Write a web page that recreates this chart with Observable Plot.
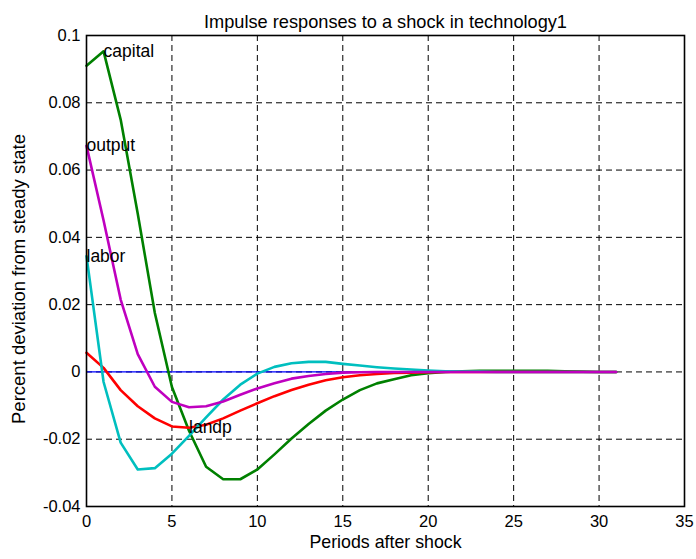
<!DOCTYPE html>
<html>
<head>
<meta charset="utf-8">
<script src="https://cdn.jsdelivr.net/npm/d3@7"></script>
<script src="https://cdn.jsdelivr.net/npm/@observablehq/plot@0.6"></script>
<style>
  html, body { margin: 0; padding: 0; background: #fff; }
  #chart svg { font-family: "Liberation Sans", Arial, Helvetica, sans-serif; }
</style>
</head>
<body>
<div id="chart"></div>
<script>
// ---- data ----
const periods = d3.range(0, 32);
const seriesNames = ["technology", "capital", "landp", "labor", "output"];
const seriesColors = ["#0000ff", "#008000", "#ff0000", "#00bfbf", "#bf00bf"];
const technology = new Array(32).fill(0);
const capital = [0.091, 0.0953, 0.075, 0.047, 0.0175, -0.0045, -0.0175, -0.0282, -0.0319, -0.0319,
  -0.029, -0.0245, -0.0198, -0.0155, -0.0115, -0.0082, -0.0054, -0.0034, -0.0022, -0.001,
  -0.0004, 0, 0.0002, 0.0003, 0.0003, 0.0003, 0.0003, 0.0003, 0.0002, 0.0001, 0, 0];
const landp = [0.0057, 0.0012, -0.0054, -0.0102, -0.0138, -0.0162, -0.0166, -0.0157, -0.0138, -0.0115,
  -0.0093, -0.0072, -0.0054, -0.0038, -0.0025, -0.0016, -0.001, -0.0006, -0.0003, -0.0002,
  -0.0001, 0, 0, 0, 0, 0, 0, 0, 0, 0, 0, 0];
const labor = [0.0344, -0.003, -0.021, -0.029, -0.0286, -0.0243, -0.019, -0.0135, -0.0082, -0.0038,
  -0.0005, 0.0015, 0.0026, 0.003, 0.003, 0.0024, 0.0019, 0.0014, 0.001, 0.0007,
  0.0004, 0.0002, 0.0001, 0.0001, 0, 0, 0, 0, 0, 0, 0, 0];
const output = [0.0672, 0.045, 0.0215, 0.0053, -0.0044, -0.0089, -0.0105, -0.0102, -0.0088, -0.0068,
  -0.0049, -0.0034, -0.002, -0.0012, -0.0006, -0.0002, -0.0001, 0, 0, 0,
  0, 0, 0, 0, 0, 0, 0, 0, 0, 0, 0, 0];
const xTicks = [0, 5, 10, 15, 20, 25, 30, 35];
const yTicks = [-0.04, -0.02, 0, 0.02, 0.04, 0.06, 0.08, 0.1];
const labelNames = ["capital", "output", "labor", "landp"];
const labelPeriods = [1, 0, 0, 6];
const titleText = "Impulse responses to a shock in technology1";
const xLabel = "Periods after shock";
const yLabel = "Percent deviation from steady state";

// ---- build tidy table ----
const valuesBySeries = [technology, capital, landp, labor, output];
const rows = [];
seriesNames.forEach((name, i) => {
  periods.forEach((p, j) => rows.push({series: name, period: p, value: valuesBySeries[i][j], color: seriesColors[i]}));
});
const labelRows = labelNames.map((n, i) => {
  const vals = valuesBySeries[seriesNames.indexOf(n)];
  return {text: n, period: labelPeriods[i], value: vals[labelPeriods[i]]};
});

const fmt = d => (d === 0 ? "0" : String(+d.toFixed(4)));

const chart = Plot.plot({
  width: 696,
  height: 559,
  marginTop: 35,
  marginBottom: 53,
  marginLeft: 86,
  marginRight: 12,
  style: {fontSize: "17px", fontFamily: "'Liberation Sans', Arial, Helvetica, sans-serif", color: "black", background: "white"},
  x: {domain: [0, 35], ticks: xTicks, tickFormat: fmt, label: null},
  y: {domain: [-0.04, 0.1], ticks: yTicks, tickFormat: fmt, label: null},
  marks: [
    Plot.gridX(xTicks, {stroke: "black", strokeOpacity: 1, strokeWidth: 1, strokeDasharray: "6,4"}),
    Plot.gridY(yTicks, {stroke: "black", strokeOpacity: 1, strokeWidth: 1, strokeDasharray: "6,4"}),
    Plot.axisX(xTicks, {tickSize: 0, tickPadding: 9, tickFormat: fmt, fontSize: 16.5}),
    Plot.axisY(yTicks, {tickSize: 0, tickPadding: 6, tickFormat: fmt, fontSize: 16.5}),
    Plot.line(rows.filter(d => d.series === "technology"), {x: "period", y: "value", stroke: "color", strokeWidth: 1.2}),
    Plot.line(rows.filter(d => d.series !== "technology"), {x: "period", y: "value", z: "series", stroke: "color", strokeWidth: 2.6, strokeLinejoin: "round"}),
    Plot.text(labelRows, {x: "period", y: "value", text: "text", textAnchor: "start", fill: "black", fontSize: 17.5}),
    Plot.frame({stroke: "black", strokeWidth: 1.6}),
    Plot.text([titleText], {frameAnchor: "top", dy: -20, textAnchor: "middle", fontSize: 18.2, fill: "black"}),
    Plot.text([xLabel], {frameAnchor: "bottom", dy: 41, textAnchor: "middle", fontSize: 17.8, fill: "black"}),
    Plot.text([yLabel], {frameAnchor: "left", dx: -67, dy: 8, textAnchor: "middle", rotate: -90, fontSize: 18.5, fill: "black"})
  ]
});
document.getElementById("chart").appendChild(chart);
</script>
</body>
</html>
